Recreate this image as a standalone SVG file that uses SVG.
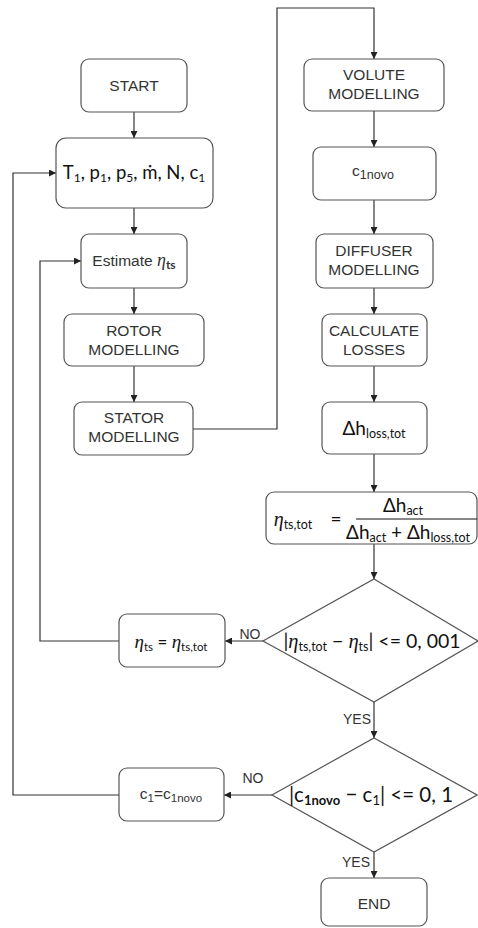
<svg xmlns="http://www.w3.org/2000/svg" width="478" height="928" viewBox="0 0 478 928">
  <style>
    .box { fill: #ffffff; stroke: #555555; stroke-width: 1.2; }
    .edge { fill: none; stroke: #333333; stroke-width: 1.2; }
    .lbl { font-family: "Liberation Sans", Arial, sans-serif; font-size: 15.5px; fill: #333333; text-anchor: middle; }
    .edgelbl { font-family: "Liberation Sans", Arial, sans-serif; font-size: 14px; fill: #333333; text-anchor: middle; }
    .math { font-family: Lato, "Open Sans", sans-serif; fill: #111111; text-anchor: middle; }
    .eta { font-family: "Liberation Serif", "DejaVu Serif", serif; font-style: italic; }
  </style>
  <defs>
    <marker id="arrow" viewBox="0 0 10 10" refX="10" refY="5" markerWidth="7" markerHeight="7" markerUnits="userSpaceOnUse" orient="auto">
      <path d="M0,0 L10,5 L0,10 z" fill="#222222"/>
    </marker>
  </defs>

  <rect width="478" height="928" fill="#ffffff"/>

  <!-- connectors -->
  <g id="connectors">
    <path class="edge" d="M134,112 V138" marker-end="url(#arrow)"/>
    <path class="edge" d="M134,208 V234" marker-end="url(#arrow)"/>
    <path class="edge" d="M134,288 V314" marker-end="url(#arrow)"/>
    <path class="edge" d="M134,366 V402" marker-end="url(#arrow)"/>
    <path class="edge" d="M193,429 H277 V8 H374 V59" marker-end="url(#arrow)"/>
    <path class="edge" d="M374,111 V147" marker-end="url(#arrow)"/>
    <path class="edge" d="M374,200 V234" marker-end="url(#arrow)"/>
    <path class="edge" d="M374,288 V314" marker-end="url(#arrow)"/>
    <path class="edge" d="M374,366 V402" marker-end="url(#arrow)"/>
    <path class="edge" d="M374,454 V492" marker-end="url(#arrow)"/>
    <path class="edge" d="M374,544 V579" marker-end="url(#arrow)"/>
    <!-- efficiency check: NO branch -->
    <path class="edge" d="M263,641 H225" marker-end="url(#arrow)"/>
    <path class="edge" d="M119,641 H40 V261 H81" marker-end="url(#arrow)"/>
    <!-- efficiency check: YES branch -->
    <path class="edge" d="M374,702 V738" marker-end="url(#arrow)"/>
    <!-- velocity check: NO branch -->
    <path class="edge" d="M272,795 H224" marker-end="url(#arrow)"/>
    <path class="edge" d="M119,795 H13 V173 H56" marker-end="url(#arrow)"/>
    <!-- velocity check: YES branch -->
    <path class="edge" d="M374,852 V878" marker-end="url(#arrow)"/>

    <text class="edgelbl" x="250" y="639">NO</text>
    <text class="edgelbl" x="357" y="724">YES</text>
    <text class="edgelbl" x="253" y="783">NO</text>
    <text class="edgelbl" x="356" y="867">YES</text>
  </g>

  <!-- left column -->
  <g id="start">
    <rect class="box" x="81" y="59" width="106" height="53" rx="8"/>
    <text class="lbl" x="134" y="91">START</text>
  </g>

  <g id="inputs">
    <rect class="box" x="56" y="138" width="157" height="70" rx="10"/>
    <text class="math" x="134" y="179" font-size="18.5">T<tspan font-size="12" dy="3">1</tspan><tspan dy="-3">, p</tspan><tspan font-size="12" dy="3">1</tspan><tspan dy="-3">, p</tspan><tspan font-size="12" dy="3">5</tspan><tspan dy="-3">, ṁ, N, c</tspan><tspan font-size="12" dy="3">1</tspan></text>
  </g>

  <g id="estimate">
    <rect class="box" x="81" y="234" width="106" height="54" rx="8"/>
    <text class="lbl" x="134" y="266">Estimate <tspan class="eta" font-size="18">η</tspan><tspan font-family="Lato, sans-serif" font-weight="bold" font-size="12" dy="3">ts</tspan></text>
  </g>

  <g id="rotor">
    <rect class="box" x="64" y="314" width="140" height="52" rx="8"/>
    <text class="lbl" x="134" y="335.5">ROTOR</text>
    <text class="lbl" x="134" y="354.5">MODELLING</text>
  </g>

  <g id="stator">
    <rect class="box" x="74" y="402" width="119" height="53" rx="8"/>
    <text class="lbl" x="134" y="423">STATOR</text>
    <text class="lbl" x="134" y="442">MODELLING</text>
  </g>

  <!-- right column -->
  <g id="volute">
    <rect class="box" x="304" y="59" width="140" height="52" rx="8"/>
    <text class="lbl" x="374" y="80">VOLUTE</text>
    <text class="lbl" x="374" y="99">MODELLING</text>
  </g>

  <g id="c1novo">
    <rect class="box" x="313" y="147" width="123" height="53" rx="8"/>
    <text class="lbl" x="373" y="176">c<tspan font-size="12.5" dy="3">1novo</tspan></text>
  </g>

  <g id="diffuser">
    <rect class="box" x="316" y="234" width="117" height="54" rx="8"/>
    <text class="lbl" x="374" y="256">DIFFUSER</text>
    <text class="lbl" x="374" y="275">MODELLING</text>
  </g>

  <g id="losses">
    <rect class="box" x="322" y="314" width="105" height="52" rx="8"/>
    <text class="lbl" x="374" y="335.5">CALCULATE</text>
    <text class="lbl" x="374" y="354.5">LOSSES</text>
  </g>

  <g id="dh-loss">
    <rect class="box" x="322" y="402" width="105" height="52" rx="8"/>
    <text class="math" x="374" y="435" font-size="19">Δh<tspan font-size="12.5" dy="3">loss,tot</tspan></text>
  </g>

  <g id="eta-total">
    <rect class="box" x="266" y="492" width="211" height="52" rx="8"/>
    <text class="math" x="293" y="526" font-size="18"><tspan class="eta" font-size="20">η</tspan><tspan font-size="12.5" dy="3">ts,tot</tspan></text>
    <text class="math" x="336" y="526" font-size="19">=</text>
    <line x1="356" y1="519" x2="477" y2="519" stroke="#111111" stroke-width="1"/>
    <text class="math" x="403" y="512" font-size="19">Δh<tspan font-size="12.5" dy="3">act</tspan></text>
    <text class="math" x="408" y="539" font-size="19">Δh<tspan font-size="12.5" dy="3">act</tspan><tspan dy="-3"> + Δh</tspan><tspan font-size="12.5" dy="3">loss,tot</tspan></text>
  </g>

  <g id="eta-check">
    <path class="box" d="M374,579 L478,641 L374,702 L263,641 Z"/>
    <text class="math" x="372" y="648" font-size="19.5">|<tspan class="eta" font-size="20.5">η</tspan><tspan font-size="12.5" dy="3">ts,tot</tspan><tspan dy="-3"> − </tspan><tspan class="eta" font-size="20.5">η</tspan><tspan font-size="12.5" dy="3">ts</tspan><tspan dy="-3">| &lt;= 0, 001</tspan></text>
  </g>

  <g id="eta-update">
    <rect class="box" x="119" y="614" width="106" height="53" rx="8"/>
    <text class="math" x="171" y="648" font-size="17"><tspan class="eta" font-size="19">η</tspan><tspan font-size="11.5" dy="3">ts</tspan><tspan dy="-3"> = </tspan><tspan class="eta" font-size="19">η</tspan><tspan font-size="11.5" dy="3">ts,tot</tspan></text>
  </g>

  <g id="c1-check">
    <path class="box" d="M374,738 L477,795 L374,852 L272,795 Z"/>
    <text class="math" x="371" y="802" font-size="20.5">|c<tspan font-size="13" font-weight="bold" dy="3">1novo</tspan><tspan dy="-3"> − c</tspan><tspan font-size="13" dy="3">1</tspan><tspan dy="-3">| &lt;= 0, 1</tspan></text>
  </g>

  <g id="c1-update">
    <rect class="box" x="119" y="768" width="105" height="53" rx="8"/>
    <text class="lbl" x="171" y="799">c<tspan font-size="11.5" dy="3">1</tspan><tspan dy="-3">=c</tspan><tspan font-size="11.5" dy="3">1novo</tspan></text>
  </g>

  <g id="end">
    <rect class="box" x="321" y="878" width="106" height="48" rx="8"/>
    <text class="lbl" x="374" y="909">END</text>
  </g>
</svg>
